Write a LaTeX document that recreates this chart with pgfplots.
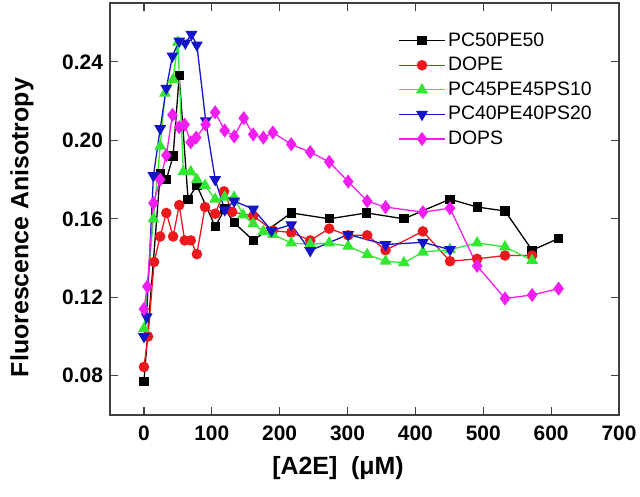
\documentclass[border=0pt]{standalone}
\usepackage{pgfplots}
\pgfplotsset{compat=1.18}
\usepackage{fontspec}
\setmainfont{Liberation Sans}

\definecolor{cred}{RGB}{235,25,30}
\definecolor{cgreen}{RGB}{50,230,50}
\definecolor{cblue}{RGB}{20,20,200}
\definecolor{cmag}{RGB}{240,30,240}

\begin{document}
\begin{tikzpicture}
\begin{axis}[
    scale only axis,
    width=254.5bp, height=206bp,
    xmin=-50, xmax=700,
    ymin=0.06, ymax=0.27,
    xtick={0,100,...,700},
    ytick={0.08,0.12,0.16,0.20,0.24},
    tick pos=both,
    xticklabel pos=left, yticklabel pos=left,
    tick align=inside,
    major tick length=4bp,
    axis line style={black!75, line width=0.75bp},
    every tick/.style={black!75, line width=0.6bp},
    /pgf/number format/assume math mode=true,
    ticklabel style={font=\bfseries\fontsize{10.5}{12}\selectfont},
    yticklabel style={/pgf/number format/.cd, fixed, fixed zerofill, precision=2},
    xticklabel style={yshift=-2bp},
    ylabel={Fluorescence Anisotropy},
    xlabel={[A2E]\ \ (μM)},
    label style={font=\bfseries\fontsize{12.5}{14}\selectfont},
    ylabel style={at={(axis description cs:-0.173,0.455)}, anchor=center, rotate=0},
    xlabel style={at={(axis description cs:0.448,0)}, anchor=center, yshift=-26.5bp},
    legend style={draw=none, fill=none, at={(axis description cs:0.554,0.945)},
        anchor=north west, font=\fontsize{9.75}{11}\selectfont,
        row sep=1.6bp, nodes={inner sep=1.2bp}},
    legend cell align=left,
    legend image code/.code={\draw[mark repeat=2,mark phase=2] plot coordinates {(0bp,0bp) (11.5bp,0bp) (23bp,0bp)};},
    every axis plot/.append style={line width=0.65bp},
]

\addplot[black, mark=square*, mark size=2bp] coordinates {
(0,0.077) (24,0.183) (33,0.180) (43,0.192) (52,0.233) (65,0.170) (78,0.177)
(105,0.156) (119,0.165) (133,0.158) (161,0.149) (217,0.163) (273,0.160)
(328,0.163) (383,0.160) (451,0.170) (491,0.166) (532,0.164) (572,0.144) (611,0.150)};
\addlegendentry{PC50PE50}

\addplot[cred, mark=*, mark size=2.3bp] coordinates {
(0,0.0845) (6,0.100) (15,0.138) (24,0.151) (33,0.163) (43,0.151) (52,0.167)
(60,0.149) (69,0.149) (78,0.142) (90,0.166) (105,0.1626) (118,0.174) (130,0.1635)
(161,0.1615) (190,0.154) (217,0.153) (245,0.149) (273,0.155) (301,0.1516)
(329,0.1516) (356,0.144) (411,0.1536) (451,0.1384) (491,0.1396) (532,0.1413) (572,0.1413)};
\addlegendentry{DOPE}

\addplot[cgreen, mark=triangle*, mark size=2.8bp] coordinates {
(0,0.104) (14,0.160) (24,0.197) (31,0.224) (43,0.231) (50,0.250) (58,0.184)
(69,0.184) (78,0.180) (90,0.177) (105,0.170) (119,0.171) (133,0.171) (146,0.162)
(161,0.1575) (176,0.1536) (190,0.152) (217,0.1477) (245,0.147) (273,0.1477)
(301,0.146) (329,0.1418) (356,0.1384) (383,0.1376) (411,0.143) (451,0.1443)
(491,0.1477) (532,0.1457) (572,0.1388)};
\addlegendentry{PC45PE45PS10}

\addplot[cblue, mark=triangle*, mark size=2.8bp, every mark/.append style={rotate=180}] coordinates {
(0,0.100) (4,0.110) (14,0.182) (24,0.206) (33,0.2265) (42,0.243) (52,0.2506)
(61,0.2496) (70,0.254) (78,0.2486) (91,0.210) (105,0.180) (119,0.1646)
(133,0.169) (161,0.165) (188,0.154) (217,0.157) (245,0.1438) (301,0.152)
(356,0.1469) (411,0.148) (451,0.1443)};
\addlegendentry{PC40PE40PS20}

\addplot[cmag, mark=diamond*, mark size=3bp] coordinates {
(0,0.114) (5,0.1255) (14,0.168) (24,0.180) (33,0.1924) (42,0.213) (52,0.2067)
(60,0.208) (69,0.199) (77,0.2014) (91,0.208) (105,0.2143) (119,0.205) (133,0.202)
(147,0.2113) (161,0.203) (176,0.2014) (190,0.204) (217,0.198) (245,0.194)
(273,0.189) (301,0.179) (329,0.169) (356,0.166) (411,0.1634) (451,0.1654)
(491,0.136) (532,0.1194) (572,0.1212) (611,0.1244)};
\addlegendentry{DOPS}

\end{axis}
\pgfresetboundingbox
\path ([shift={(-55bp,-40.5bp)}]current axis.south west) rectangle ([shift={(10.5bp,1.5bp)}]current axis.north east);
\end{tikzpicture}
\end{document}
